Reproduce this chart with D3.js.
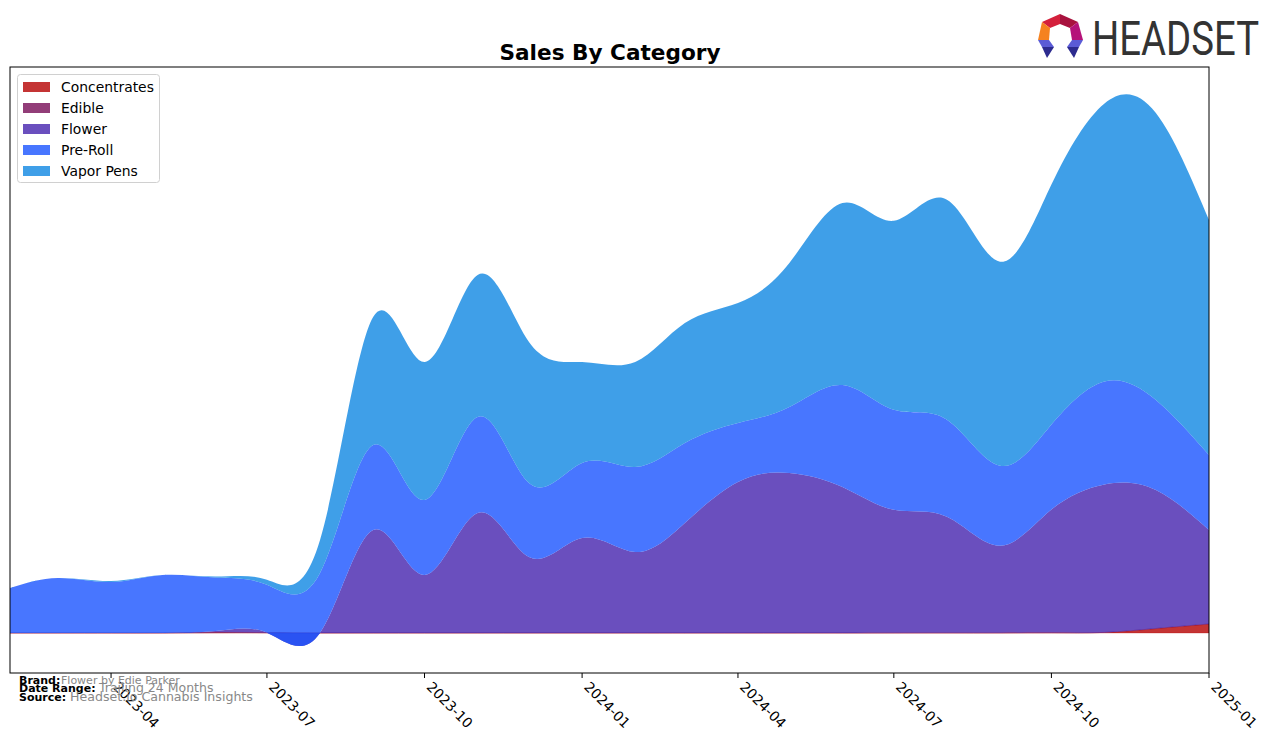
<!DOCTYPE html>
<html>
<head>
<meta charset="utf-8">
<script src="https://cdn.jsdelivr.net/npm/d3@7"></script>
<style>
  body { margin: 0; background: #fff; }
  svg { display: block; font-family: "DejaVu Sans", sans-serif; }
</style>
</head>
<body>
<svg id="chart" width="1276" height="743"></svg>
<script>
// ---- data (monthly sales, USD) ----
const months = ["2023-02","2023-03","2023-04","2023-05","2023-06","2023-07","2023-08","2023-09",
  "2023-10","2023-11","2023-12","2024-01","2024-02","2024-03","2024-04","2024-05","2024-06",
  "2024-07","2024-08","2024-09","2024-10","2024-11","2024-12","2025-01"];
const categories = ["Concentrates","Edible","Flower","Pre-Roll","Vapor Pens"];
const concentrates = [0,0,0,0,30,30,0,0,0,0,0,0,0,0,0,0,0,0,0,0,20,60,450,900];
const edible       = [0,0,0,0,60,0,0,0,0,0,0,0,0,0,0,0,0,20,30,30,20,0,0,0];
const flower       = [0,0,0,0,100,0,0,10300,5800,12000,7600,9500,8100,11000,15100,16000,14600,12300,11600,8700,12300,14800,13850,9400];
const preRoll      = [4500,5500,5100,5800,5350,4800,6000,8500,7500,9600,7400,7500,8500,8000,5900,6600,10200,10000,9700,8000,8500,10300,9000,7500];
const vaporPens    = [0,0,100,0,100,500,3300,12800,13800,14200,14100,10100,10500,12000,12000,14400,18200,18900,22000,20400,24000,27800,28700,23500];
const tickLabels = ["2023-04","2023-07","2023-10","2024-01","2024-04","2024-07","2024-10","2025-01"];
const colors = ["#b50101","#770d56","#4523ae","#1a54ff","#0f87e2"];

const seriesArrays = [concentrates, edible, flower, preRoll, vaporPens];
const parse = d3.utcParse("%Y-%m");
const rows = months.map((m, i) => {
  const r = { date: parse(m) };
  categories.forEach((c, k) => r[c] = seriesArrays[k][i]);
  return r;
});

const svg = d3.select("#chart");
const L = 10, R = 1209, T = 67, B = 673;

const x = d3.scaleUtc().domain([parse("2023-02"), parse("2025-01")]).range([L, R]);
const y = d3.scaleLinear().domain([-4000, 56600]).range([B, T]);

const stack = d3.stack().keys(categories);
const layers = stack(rows);

svg.append("clipPath").attr("id", "plotclip")
  .append("rect").attr("x", L).attr("y", T).attr("width", R - L).attr("height", B - T);

const area = d3.area()
  .x(d => x(d.data.date))
  .y0(d => y(d[0]))
  .y1(d => y(d[1]))
  .curve(d3.curveNatural);

const g = svg.append("g").attr("clip-path", "url(#plotclip)");
g.selectAll("path.layer").data(layers).join("path")
  .attr("class", "layer")
  .attr("d", area)
  .attr("fill", (d, i) => colors[i])
  .attr("fill-opacity", 0.8)
  .attr("stroke", (d, i) => i < 2 ? colors[i] : "none")
  .attr("stroke-opacity", 0.35)
  .attr("stroke-width", 0.8);

// frame
svg.append("rect").attr("x", L).attr("y", T).attr("width", R - L).attr("height", B - T)
  .attr("fill", "none").attr("stroke", "#000").attr("stroke-width", 1);

// x axis ticks
const tickDates = tickLabels.map(parse);
const ax = svg.append("g");
ax.selectAll("line").data(tickDates).join("line")
  .attr("x1", d => x(d)).attr("x2", d => x(d))
  .attr("y1", B).attr("y2", B + 5)
  .attr("stroke", "#000").attr("stroke-width", 1);
ax.selectAll("text").data(tickDates).join("text")
  .attr("transform", d => `translate(${x(d) + 9},${B + 7}) rotate(45)`)
  .attr("dy", "0.8em")
  .attr("font-size", 13.9)
  .attr("fill", "#000")
  .text(d => d3.utcFormat("%Y-%m")(d));

// title
svg.append("text").attr("x", 610).attr("y", 60).attr("text-anchor", "middle")
  .attr("font-size", 21.6).attr("font-weight", "bold").text("Sales By Category");

// legend
const lg = svg.append("g");
lg.append("rect").attr("x", 17.5).attr("y", 74.5).attr("width", 142).attr("height", 108)
  .attr("rx", 3).attr("fill", "#fff").attr("fill-opacity", 0.8)
  .attr("stroke", "#d0d0d0").attr("stroke-width", 1);
categories.forEach((c, i) => {
  const yy = 87 + i * 21;
  lg.append("rect").attr("x", 23).attr("y", yy - 5).attr("width", 27).attr("height", 10)
    .attr("fill", colors[i]).attr("fill-opacity", 0.8);
  lg.append("text").attr("x", 61).attr("y", yy + 5).attr("font-size", 13.9).text(c);
});

// footer
const foot = [
  ["Brand:", "Flower by Edie Parker", 684, 61, 11],
  ["Date Range:", "Trailing 24 Months", 692, 99, 12.5],
  ["Source:", "Headset.io Cannabis Insights", 701, 70, 12.6]
];
foot.forEach(f => {
  svg.append("text").attr("x", 19).attr("y", f[2]).attr("font-size", 11)
    .attr("font-weight", "bold").text(f[0]);
  svg.append("text").attr("x", f[3]).attr("y", f[2]).attr("font-size", f[4])
    .attr("fill", "#888").text(f[1]);
});

// logo
const logo = svg.append("g");
const polys = [
  ["#d4203c", [[1042,22],[1060,14],[1060,24],[1050,28]]],
  ["#a8123e", [[1060,14],[1078,22],[1070,28],[1060,24]]],
  ["#f58220", [[1042,22],[1050,28],[1049,40],[1038,40]]],
  ["#b5127a", [[1078,22],[1083,40],[1072,40],[1070,28]]],
  ["#5b5bd6", [[1038,40],[1049,40],[1054,47],[1042,47]]],
  ["#2d2b8f", [[1042,47],[1054,47],[1047,58]]],
  ["#5b5bd6", [[1072,40],[1083,40],[1079,47],[1067,47]]],
  ["#2d2b8f", [[1067,47],[1079,47],[1074,58]]]
];
polys.forEach(p => logo.append("polygon").attr("points", p[1].map(q => q.join(",")).join(" ")).attr("fill", p[0]));
logo.append("text").attr("x", 1092).attr("y", 55).attr("font-family", "Roboto, sans-serif")
  .attr("font-size", 48).attr("fill", "#333")
  .attr("textLength", 167).attr("lengthAdjust", "spacingAndGlyphs").text("HEADSET");
</script>
</body>
</html>
